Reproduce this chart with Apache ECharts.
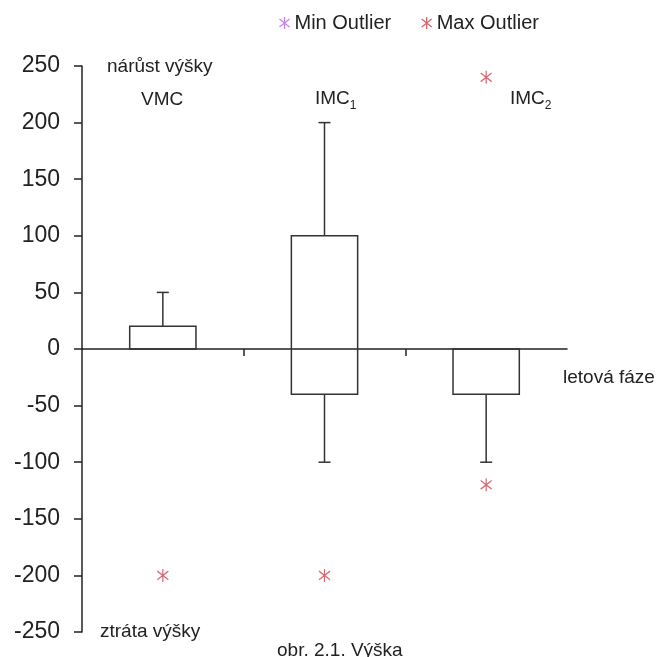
<!DOCTYPE html>
<html>
<head>
<meta charset="utf-8">
<script src="https://cdn.jsdelivr.net/npm/echarts@6/dist/echarts.min.js"></script>
<style>
  html, body { margin: 0; padding: 0; background: #fff; }
  #chart { width: 658px; height: 657px; }
</style>
</head>
<body>
<div id="chart"></div>
<script>
// Flight phases and height-change box statistics
const categories = ['VMC', 'IMC1', 'IMC2'];
const whiskerLow = [0, -100, -100];
const quartile1 = [0, -40, -40];
const quartile3 = [20, 100, 0];
const whiskerHigh = [50, 200, 0];

// Outliers as [category index, value]
const minOutliers = [];
const maxOutliers = [[0, -200], [1, -200], [2, 240], [2, -120]];

const yTicks = { min: -250, max: 250, step: 50 };

const FONT = '"Liberation Sans", Arial, sans-serif';
const LINE = '#333333';
const STAR = 'path://M5,0L5,12M0,2L10,10M0,10L10,2';

const GRID = { left: 82, right: 91, top: 66, bottom: 25 };
const plotHeight = 657 - GRID.top - GRID.bottom;
// distance of the zero line above the bottom of the plot
const zeroLift = plotHeight * (0 - yTicks.min) / (yTicks.max - yTicks.min);

const boxData = categories.map((c, i) => [i, whiskerLow[i], quartile1[i], quartile3[i], whiskerHigh[i]]);

function renderBox(params, api) {
  const i = api.value(0);
  const lo = api.value(1), q1 = api.value(2), q3 = api.value(3), hi = api.value(4);
  const band = api.size([1, 0])[0];
  const halfBox = band * 0.205;
  const capHalf = 6;
  const cx = api.coord([i, 0])[0];
  const yLo = api.coord([i, lo])[1];
  const yQ1 = api.coord([i, q1])[1];
  const yQ3 = api.coord([i, q3])[1];
  const yHi = api.coord([i, hi])[1];
  const style = { stroke: LINE, lineWidth: 1.5, fill: null };
  const children = [{
    type: 'rect',
    shape: { x: cx - halfBox, y: yQ3, width: halfBox * 2, height: yQ1 - yQ3 },
    style: style
  }];
  if (hi !== q3) {
    children.push({ type: 'line', shape: { x1: cx, y1: yQ3, x2: cx, y2: yHi }, style: style });
    children.push({ type: 'line', shape: { x1: cx - capHalf, y1: yHi, x2: cx + capHalf, y2: yHi }, style: style });
  }
  if (lo !== q1) {
    children.push({ type: 'line', shape: { x1: cx, y1: yQ1, x2: cx, y2: yLo }, style: style });
    children.push({ type: 'line', shape: { x1: cx - capHalf, y1: yLo, x2: cx + capHalf, y2: yLo }, style: style });
  }
  return { type: 'group', children: children };
}

const chart = echarts.init(document.getElementById('chart'), null, { renderer: 'canvas' });

const txt = (left, top, text, size) => ({
  type: 'text', left: left, top: top,
  style: { text: text, font: size + 'px ' + FONT, fill: '#222' }
});

const subLabel = (left, top, main, sub) => ({
  type: 'text', left: left, top: top,
  style: {
    text: '{m|' + main + '}{s|' + sub + '}', font: '19px ' + FONT, fill: '#222',
    rich: {
      m: { fontSize: 19, fontFamily: FONT, color: '#222', lineHeight: 26, verticalAlign: 'middle' },
      s: { fontSize: 12, fontFamily: FONT, color: '#222', lineHeight: 26, verticalAlign: 'bottom' }
    }
  }
});

chart.setOption({
  animation: false,
  backgroundColor: '#ffffff',
  textStyle: { fontFamily: FONT },
  grid: Object.assign({ containLabel: false }, GRID),
  legend: {
    top: 8, left: 272,
    itemWidth: 10, itemHeight: 13, itemGap: 28,
    textStyle: { fontSize: 20, color: '#222', fontFamily: FONT },
    data: [
      { name: 'Min Outlier', icon: STAR, itemStyle: { color: 'none', borderColor: '#b862e0', borderWidth: 1.3 } },
      { name: 'Max Outlier', icon: STAR, itemStyle: { color: 'none', borderColor: '#d0404e', borderWidth: 1.3 } }
    ]
  },
  xAxis: [{
    type: 'category',
    data: categories,
    axisLine: { onZero: true, lineStyle: { color: '#222', width: 1.5 } },
    axisTick: { show: false },
    axisLabel: { show: false },
    splitLine: { show: false }
  }, {
    // carries only the category separator ticks, lifted to the zero line
    type: 'value',
    min: 0, max: categories.length,
    position: 'bottom',
    offset: -zeroLift,
    axisLine: { show: false, onZero: false },
    axisTick: { show: true, length: 7, lineStyle: { color: '#222', width: 1.5 }, customValues: [1, 2] },
    axisLabel: { show: false },
    splitLine: { show: false }
  }],
  yAxis: {
    type: 'value',
    min: yTicks.min, max: yTicks.max, interval: yTicks.step,
    axisLine: { show: true, onZero: false, lineStyle: { color: '#222', width: 1.5 } },
    axisTick: { show: true, length: 8, lineStyle: { color: '#222', width: 1.5 } },
    axisLabel: { fontSize: 23, color: '#222', margin: 22, fontFamily: FONT },
    splitLine: { show: false }
  },
  series: [{
    type: 'custom',
    name: 'box',
    xAxisIndex: 0,
    renderItem: renderBox,
    data: boxData,
    encode: { x: 0, y: [1, 2, 3, 4] },
    z: 3
  }, {
    type: 'scatter',
    name: 'Min Outlier',
    xAxisIndex: 0,
    symbol: STAR,
    symbolSize: [11, 13],
    itemStyle: { color: 'none', borderColor: '#b862e0', borderWidth: 1.3 },
    data: minOutliers,
    z: 4
  }, {
    type: 'scatter',
    name: 'Max Outlier',
    xAxisIndex: 0,
    symbol: STAR,
    symbolSize: [11, 13],
    itemStyle: { color: 'none', borderColor: '#d0404e', borderWidth: 1.3 },
    data: maxOutliers,
    z: 5
  }],
  graphic: [
    txt(107, 57, 'nárůst výšky', 19),
    txt(141, 90, 'VMC', 19),
    subLabel(315, 89, 'IMC', '1'),
    subLabel(510, 89, 'IMC', '2'),
    txt(563, 368, 'letová fáze', 19),
    txt(100, 622, 'ztráta výšky', 19),
    txt(277, 641, 'obr. 2.1. Výška', 19)
  ]
});
</script>
</body>
</html>
